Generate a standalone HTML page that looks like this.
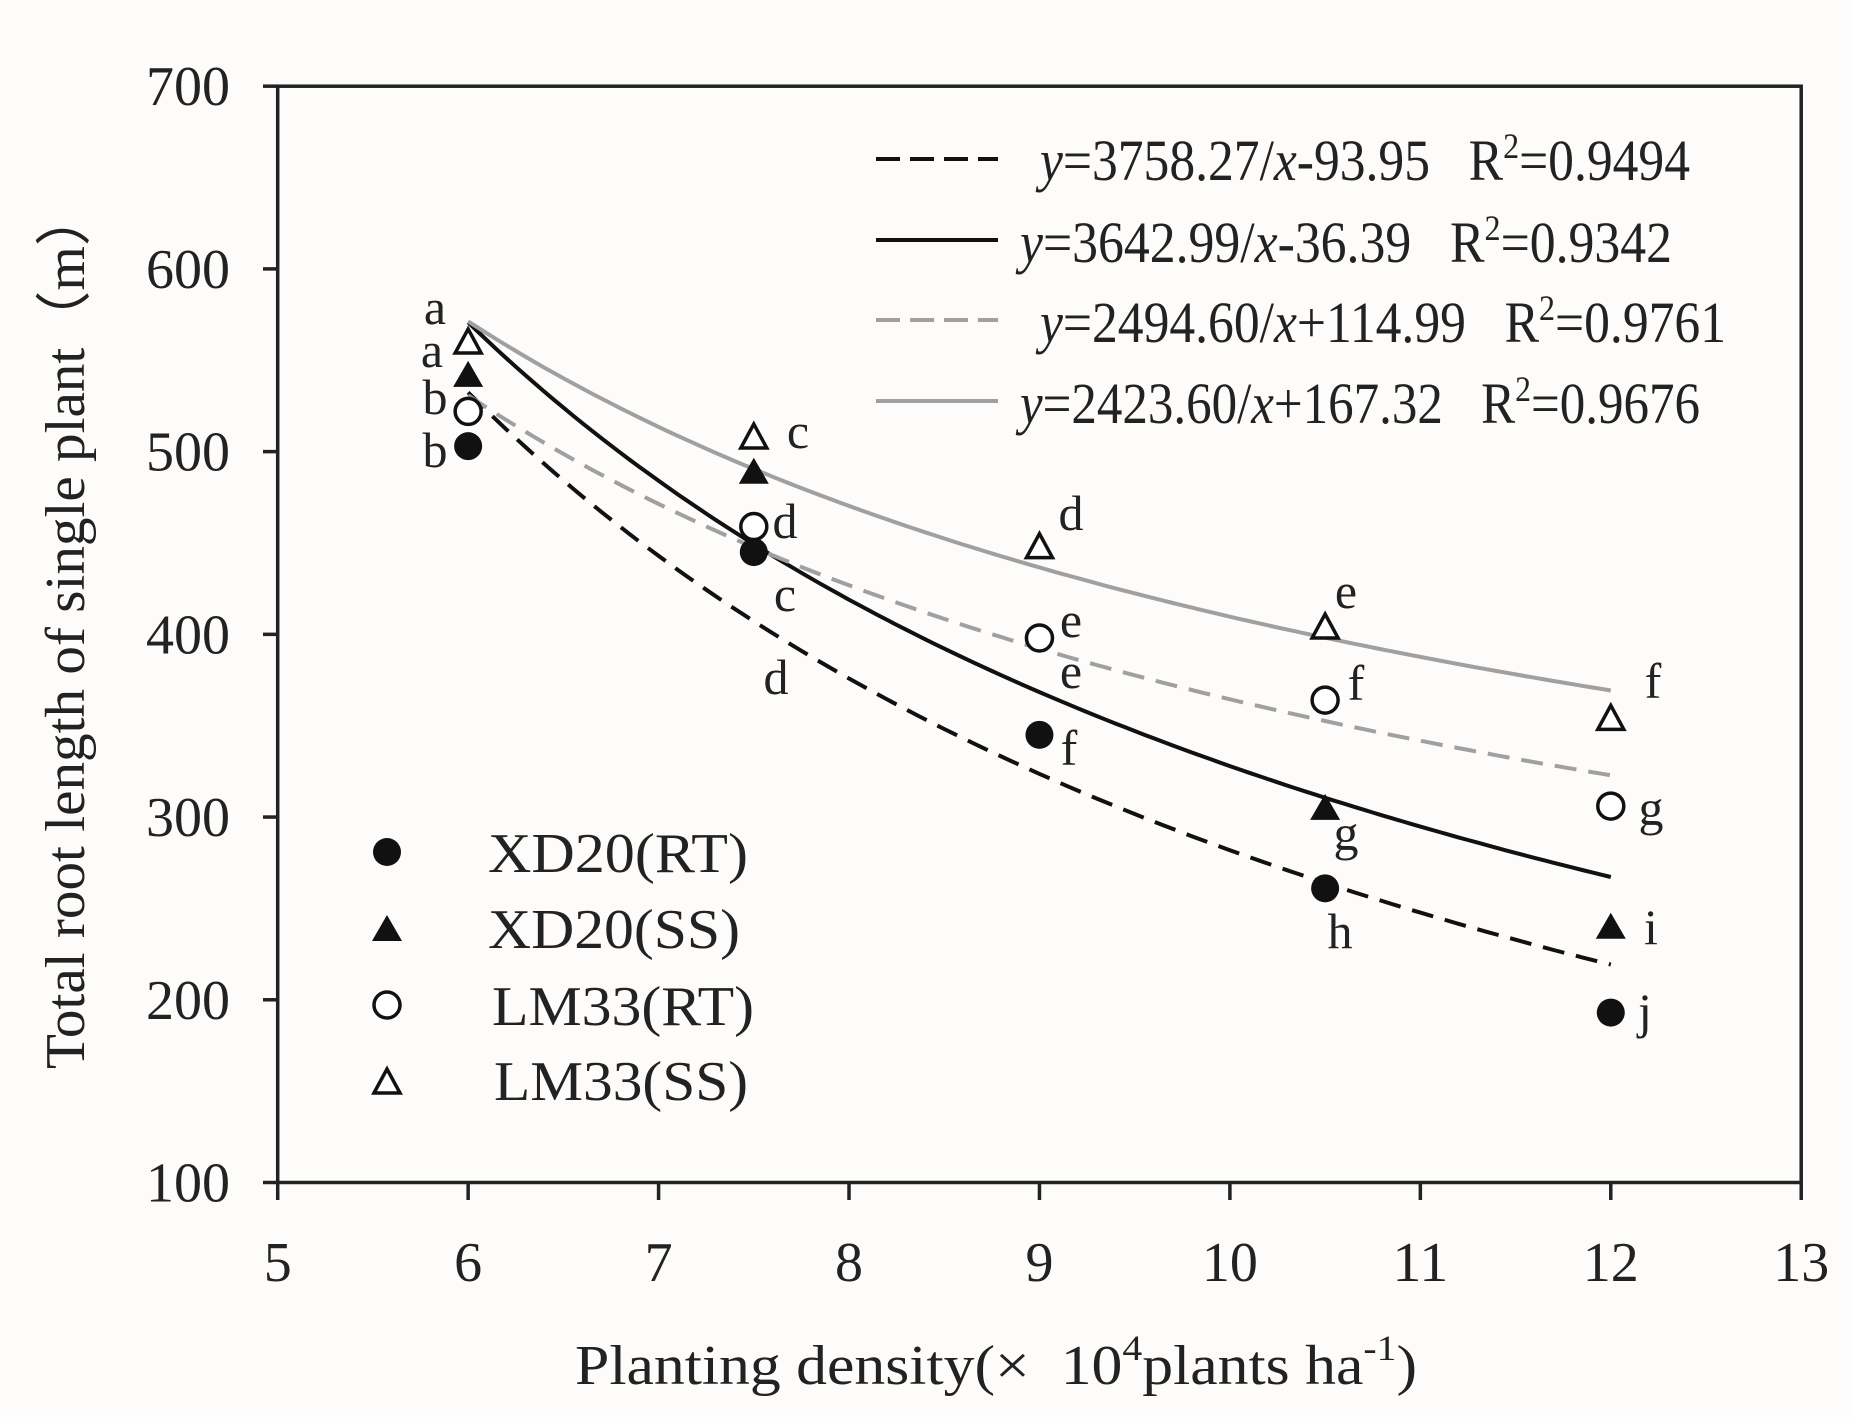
<!DOCTYPE html>
<html><head><meta charset="utf-8"><style>
html,body{margin:0;padding:0;background:#fdfcfa;}
svg{display:block;font-family:"Liberation Serif",serif;}
</style></head><body>
<svg id="s" width="1852" height="1417" viewBox="0 0 1852 1417" xmlns="http://www.w3.org/2000/svg">
<rect width="1852" height="1417" fill="#fdfcfa"/>
<g id="curves" fill="none"></g>
<g stroke="#222" stroke-width="3.5" fill="none">
<rect x="277.7" y="86.2" width="1523.5" height="1096.3"/>
</g>
<g id="ticks" stroke="#222" stroke-width="3.5"></g>
<g id="labels" fill="#222" font-size="56"></g>
<g id="pts"></g>
<g fill="#222" font-size="50" text-anchor="middle">
<text x="435" y="324">a</text><text x="432" y="367">a</text><text x="435" y="414">b</text><text x="435" y="467">b</text>
<text x="798" y="448">c</text><text x="785" y="538">d</text><text x="785" y="611">c</text><text x="776" y="694">d</text>
<text x="1071" y="530">d</text><text x="1071" y="637">e</text><text x="1071" y="688">e</text><text x="1069" y="765">f</text>
<text x="1346" y="608">e</text><text x="1356" y="700">f</text><text x="1346" y="850">g</text><text x="1340" y="948">h</text>
<text x="1653" y="698">f</text><text x="1651" y="825">g</text><text x="1651" y="944">i</text><text x="1645" y="1028">j</text>
</g>
<!-- top-right legend -->
<g stroke-width="4">
<line x1="876" y1="159" x2="998" y2="159" stroke="#111" stroke-dasharray="24,10"/>
<line x1="876" y1="240" x2="998" y2="240" stroke="#111"/>
<line x1="876" y1="320" x2="998" y2="320" stroke="#a0a0a0" stroke-dasharray="24,10"/>
<line x1="876" y1="401" x2="998" y2="401" stroke="#a0a0a0"/>
</g>
<g fill="#222" font-size="58">
<text x="1040" y="180" textLength="650" lengthAdjust="spacingAndGlyphs"><tspan font-style="italic">y</tspan>=3758.27/<tspan font-style="italic">x</tspan>-93.95&#160;&#160;&#160;R<tspan font-size="36" dy="-22">2</tspan><tspan dy="22">=0.9494</tspan></text>
<text x="1020" y="262" textLength="652" lengthAdjust="spacingAndGlyphs"><tspan font-style="italic">y</tspan>=3642.99/<tspan font-style="italic">x</tspan>-36.39&#160;&#160;&#160;R<tspan font-size="36" dy="-22">2</tspan><tspan dy="22">=0.9342</tspan></text>
<text x="1040" y="342" textLength="686" lengthAdjust="spacingAndGlyphs"><tspan font-style="italic">y</tspan>=2494.60/<tspan font-style="italic">x</tspan>+114.99&#160;&#160;&#160;R<tspan font-size="36" dy="-22">2</tspan><tspan dy="22">=0.9761</tspan></text>
<text x="1020" y="423" textLength="680" lengthAdjust="spacingAndGlyphs"><tspan font-style="italic">y</tspan>=2423.60/<tspan font-style="italic">x</tspan>+167.32&#160;&#160;&#160;R<tspan font-size="36" dy="-22">2</tspan><tspan dy="22">=0.9676</tspan></text>
</g>
<!-- bottom-left legend -->
<g>
<circle cx="387" cy="852" r="14" fill="#111"/>
<polygon points="372,941 402,941 387,915" fill="#111"/>
<circle cx="387" cy="1005" r="13" fill="#fff" stroke="#111" stroke-width="3.5"/>
<polygon points="374,1093 400,1093 387,1069" fill="#fff" stroke="#111" stroke-width="3.5"/>
</g>
<g fill="#222" font-size="56">
<text x="488" y="872" textLength="260" lengthAdjust="spacingAndGlyphs">XD20(RT)</text>
<text x="488" y="948" textLength="252" lengthAdjust="spacingAndGlyphs">XD20(SS)</text>
<text x="492" y="1025" textLength="262" lengthAdjust="spacingAndGlyphs">LM33(RT)</text>
<text x="494" y="1100" textLength="254" lengthAdjust="spacingAndGlyphs">LM33(SS)</text>
</g>
<g fill="#222" font-size="56">
<text x="575" y="1384" textLength="842" lengthAdjust="spacingAndGlyphs">Planting density(×&#160; 10<tspan font-size="36" dy="-24">4</tspan><tspan dy="24">plants ha</tspan><tspan font-size="36" dy="-24">-1</tspan><tspan dy="24">)</tspan></text>
<text transform="translate(84,629) rotate(-90)" text-anchor="middle" textLength="880" lengthAdjust="spacingAndGlyphs">Total root length of single plant（m）</text>
</g>
</svg>
<script>
var NS="http://www.w3.org/2000/svg";
function X(v){return 277.7+(v-5)*190.44;}
function Y(v){return 1182.5-(v-100)*1.8272;}
function el(t,a,p){var e=document.createElementNS(NS,t);for(var k in a)e.setAttribute(k,a[k]);p.appendChild(e);return e;}
var T=document.getElementById('ticks'),L=document.getElementById('labels');
for(var v=100;v<=700;v+=100){el('line',{x1:263,x2:277.7,y1:Y(v),y2:Y(v)},T);
 var t=el('text',{x:230,y:Y(v)+19,'text-anchor':'end',textLength:84,lengthAdjust:'spacingAndGlyphs'},L);t.textContent=v;}
for(var v=5;v<=13;v++){el('line',{x1:X(v),x2:X(v),y1:1182.5,y2:1200},T);
 var s=String(v);var t=el('text',{x:X(v),y:1281,'text-anchor':'middle'},L);t.textContent=s;
 t.setAttribute('textLength',s.length*28);t.setAttribute('lengthAdjust','spacingAndGlyphs');}
var C=document.getElementById('curves');
var fits=[[3758.27,-93.95,'#111','22,12'],[3642.99,-36.39,'#111',''],[2494.60,114.99,'#a0a0a0','22,12'],[2423.60,167.32,'#a0a0a0','']];
fits.forEach(function(f){var d='';for(var x=6;x<=12.0001;x+=0.05){d+=(d?'L':'M')+X(x).toFixed(1)+','+Y(f[0]/x+f[1]).toFixed(1);}
 var a={d:d,stroke:f[2],'stroke-width':4};if(f[3])a['stroke-dasharray']=f[3];el('path',a,C);});
var P=document.getElementById('pts');var xs=[6,7.5,9,10.5,12];
[503,445,345,261,193].forEach(function(v,i){el('circle',{cx:X(xs[i]),cy:Y(v),r:14,fill:'#111'},P);});
[[6,542],[7.5,489],[10.5,305],[12,240]].forEach(function(p){var x=X(p[0]),y=Y(p[1]);el('polygon',{points:(x-15)+','+(y+12)+' '+(x+15)+','+(y+12)+' '+x+','+(y-14),fill:'#111'},P);});
[522,459,398,364,306].forEach(function(v,i){el('circle',{cx:X(xs[i]),cy:Y(v),r:13,fill:'#fff',stroke:'#111','stroke-width':3.5},P);});
[560,508,448,404,354].forEach(function(v,i){var x=X(xs[i]),y=Y(v);el('polygon',{points:(x-13)+','+(y+11)+' '+(x+13)+','+(y+11)+' '+x+','+(y-13),fill:'#fff',stroke:'#111','stroke-width':3.5},P);});
</script>
</body></html>
